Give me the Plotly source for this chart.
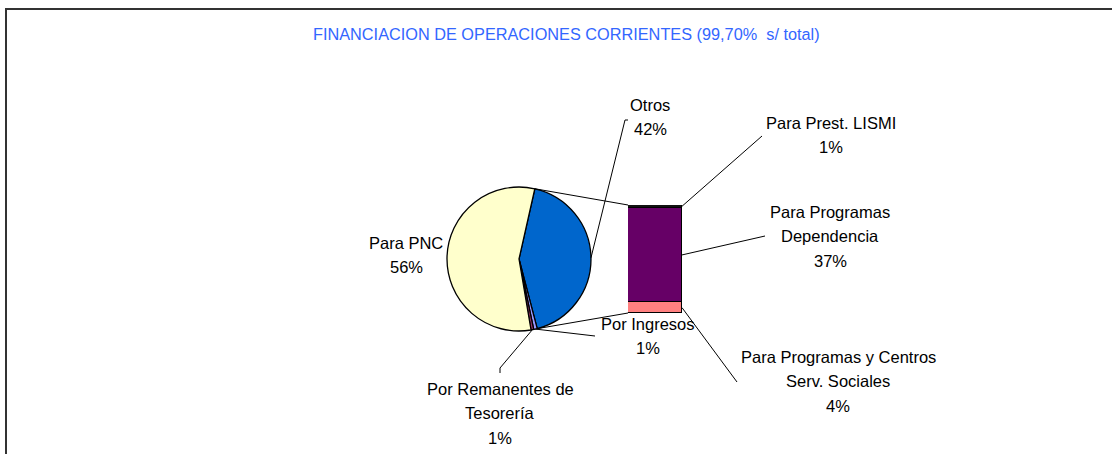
import math
import plotly.graph_objects as go

W, H = 1112, 454

# ---- data ----
title_text = "FINANCIACION DE OPERACIONES CORRIENTES (99,70%  s/ total)"
pie_labels = ["Otros", "Por Ingresos", "Por Remanentes de Tesorería", "Para PNC"]
pie_values = [42.4, 0.8, 0.6, 56.2]
pie_colors = ["#0066CC", "#9999FF", "#993366", "#FFFFCC"]

bar_labels = ["Para Programas y Centros Serv. Sociales", "Para Programas Dependencia", "Para Prest. LISMI"]
bar_values = [4.2, 37.2, 1.0]
bar_colors = ["#FF8080", "#660066", "#111111"]

# label line breaks (text only)
label_lines = {
    "Otros": ["Otros"],
    "Por Ingresos": ["Por Ingresos"],
    "Por Remanentes de Tesorería": ["Por Remanentes de", "Tesorería"],
    "Para PNC": ["Para PNC"],
    "Para Programas y Centros Serv. Sociales": ["Para Programas y Centros", "Serv. Sociales"],
    "Para Programas Dependencia": ["Para Programas", "Dependencia"],
    "Para Prest. LISMI": ["Para Prest. LISMI"],
}

# ---- layout (pixel positions) ----
pie_cx, pie_cy, pie_r = 519, 259, 72
rotation = 12.7
bar_x0, bar_x1, bar_y0, bar_y1 = 628, 682, 205, 313

# label centres (x, first line y) and leader anchor at label side
label_pos = {
    "Otros": (650, 105, [(628, 120), (625, 120)]),
    "Por Ingresos": (648, 324, [(595, 336)]),
    "Por Remanentes de Tesorería": (500, 389, [(500, 373), (500, 368)]),
    "Para PNC": (406, 243, None),
    "Para Programas y Centros Serv. Sociales": (838, 357, [(737, 382)]),
    "Para Programas Dependencia": (830, 212, [(765, 236)]),
    "Para Prest. LISMI": (831, 123, [(762, 136)]),
}
LINE_H = 24.3
FONT = "Liberation Sans, Arial, sans-serif"


def fx(x):
    return x / W


def fy(y):
    return 1 - y / H


def pie_point(angle_deg):
    a = math.radians(angle_deg)
    return pie_cx + pie_r * math.sin(a), pie_cy - pie_r * math.cos(a)


fig = go.Figure()

fig.add_trace(go.Pie(
    labels=pie_labels, values=pie_values, sort=False, direction="clockwise",
    rotation=rotation, textinfo="none", showlegend=False,
    marker=dict(colors=pie_colors, line=dict(color="black", width=1.3)),
    domain=dict(x=[fx(pie_cx - pie_r), fx(pie_cx + pie_r)],
                y=[fy(pie_cy + pie_r), fy(pie_cy - pie_r)]),
))

for lab, val, col in zip(bar_labels, bar_values, bar_colors):
    fig.add_trace(go.Bar(
        x=["Otros"], y=[val], name=lab, showlegend=False,
        marker=dict(color=col, line=dict(color="black", width=1.5)),
        xaxis="x", yaxis="y",
    ))

bar_total = sum(bar_values)

fig.update_layout(
    width=W, height=H, margin=dict(l=0, r=0, t=0, b=0),
    paper_bgcolor="white", plot_bgcolor="rgba(0,0,0,0)",
    barmode="stack", bargap=0,
    xaxis=dict(domain=[fx(bar_x0), fx(bar_x1)], range=[-0.5, 0.5], visible=False, fixedrange=True),
    yaxis=dict(domain=[fy(bar_y1), fy(bar_y0)], range=[0, bar_total], visible=False, fixedrange=True),
)

shapes = []
ann = []

def line(p, q, w=1):
    shapes.append(dict(type="line", xref="paper", yref="paper",
                       x0=fx(p[0]), y0=fy(p[1]), x1=fx(q[0]), y1=fy(q[1]),
                       line=dict(color="black", width=w)))

# frame
shapes.append(dict(type="rect", xref="paper", yref="paper", x0=fx(6), y0=-0.05, x1=1.05, y1=fy(9),
                   line=dict(color="#333333", width=2), fillcolor="rgba(0,0,0,0)"))

# pie angles
total = sum(pie_values)
ang = rotation
pie_mid = {}
pie_start_end = {}
for lab, v in zip(pie_labels, pie_values):
    span = v / total * 360
    pie_start_end[lab] = (ang, ang + span)
    pie_mid[lab] = ang + span / 2
    ang += span

# connectors between pie "Otros" slice and bar
s, e = pie_start_end["Otros"]
line(pie_point(s), (bar_x0, bar_y0))
line(pie_point(e), (bar_x0, bar_y1))

# bar segment midpoints
bar_mid = {}
cum = 0
for lab, v in zip(bar_labels, bar_values):
    mid = cum + v / 2
    bar_mid[lab] = (bar_x1, bar_y1 - (bar_y1 - bar_y0) * mid / bar_total)
    cum += v

pct = {lab: v / total * 100 for lab, v in zip(pie_labels, pie_values)}
pct.update({lab: v / total * 100 for lab, v in zip(bar_labels, bar_values)})

for lab, (lx, ly, anchor) in label_pos.items():
    lines = label_lines[lab] + [f"{round(pct[lab])}%"]
    for i, t in enumerate(lines):
        ann.append(dict(x=fx(lx), y=fy(ly + i * LINE_H), xref="paper", yref="paper",
                        text=t, showarrow=False, xanchor="center", yanchor="middle",
                        font=dict(family=FONT, size=16.5, color="black")))
    if anchor:
        start = pie_point(pie_mid[lab]) if lab in pie_mid else bar_mid[lab]
        pts = [start] + anchor[::-1]
        for a, b in zip(pts[:-1], pts[1:]):
            line(a, b)

ann.append(dict(x=fx(566), y=fy(34), xref="paper", yref="paper", text=title_text,
                showarrow=False, xanchor="center", yanchor="middle",
                font=dict(family=FONT, size=16.3, color="#3366FF")))

fig.update_layout(shapes=shapes, annotations=ann)
fig.write_html("out.html", config={"displayModeBar": False},
               post_script="document.body.style.margin='0';document.body.style.overflow='hidden';")
